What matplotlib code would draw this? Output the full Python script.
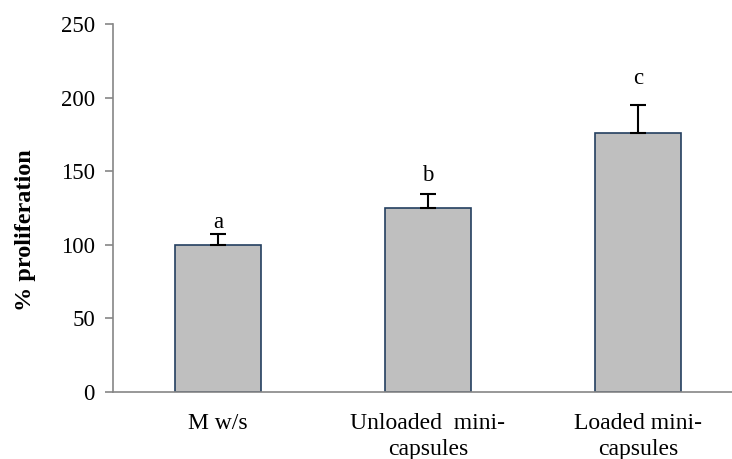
import numpy as np
import matplotlib.pyplot as plt

plt.rcParams['font.family'] = ['Liberation Serif', 'DejaVu Serif']

# data
groups = ['M w/s', 'Unloaded  mini-\ncapsules', 'Loaded mini-\ncapsules']
proliferation = [100, 125, 176]
err_up = [7, 9.5, 19]
letters = ['a', 'b', 'c']
letter_y = [115, 147, 213]

fig = plt.figure(figsize=(7.32, 4.59), dpi=100)
ax = fig.add_axes([113/732, 67/459, 630/732, 368/459])

x = np.arange(len(groups))
ax.bar(x, proliferation, width=0.405, color='#BFBFBF', edgecolor='#243F60', linewidth=1.2, zorder=2)
ax.errorbar(x, proliferation, yerr=[np.zeros(len(err_up)), err_up], fmt='none',
            ecolor='black', elinewidth=1.5, capsize=6, capthick=1.5, zorder=3)
for xi, yi, t in zip(x, letter_y, letters):
    ax.text(xi, yi, t, ha='center', va='center', fontsize=16.5)

ax.set_xlim(-0.5, 2.5)
ax.set_ylim(0, 250)
ax.set_yticks(np.arange(0, 251, 50))
ax.set_xticks(x)
ax.set_xticklabels(groups, fontsize=17, linespacing=1.3)
ax.tick_params(axis='x', length=0, pad=15)
ax.tick_params(axis='y', labelsize=16.5, length=6, color='#868686', width=1.2, pad=7)

for s in ['top', 'right']:
    ax.spines[s].set_visible(False)
for s in ['left', 'bottom']:
    ax.spines[s].set_color('#868686')
    ax.spines[s].set_linewidth(1.2)

ax.set_ylabel('% proliferation', fontsize=17.5, fontweight='bold')
ax.yaxis.set_label_coords(-77/630, (392 - 230) / 368)

plt.savefig('out.png', dpi=100)
